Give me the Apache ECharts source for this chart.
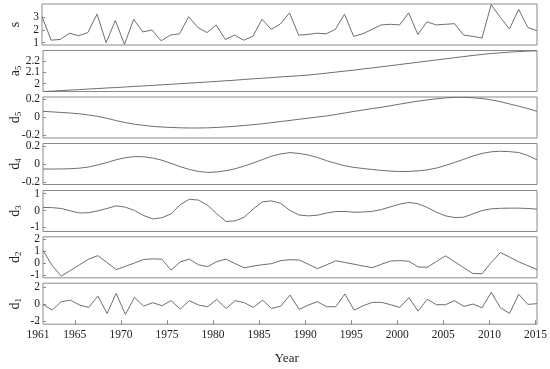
<!DOCTYPE html>
<html>
<head>
<meta charset="utf-8">
<script src="https://cdn.jsdelivr.net/npm/echarts@6/dist/echarts.min.js"></script>
<style>html,body{margin:0;padding:0;background:#fff}#c{width:550px;height:369px}</style>
</head>
<body>
<div id="c"></div>
<script>
const years = [1961,1962,1963,1964,1965,1966,1967,1968,1969,1970,1971,1972,1973,1974,1975,1976,1977,1978,1979,1980,
1981,1982,1983,1984,1985,1986,1987,1988,1989,1990,1991,1992,1993,1994,1995,1996,1997,1998,1999,2000,
2001,2002,2003,2004,2005,2006,2007,2008,2009,2010,2011,2012,2013,2014,2015];
const xTicks = [1961,1965,1970,1975,1980,1985,1990,1995,2000,2005,2010,2015];

const s = [3.05,1.2,1.26,1.75,1.55,1.8,3.25,1.0,2.75,0.87,2.85,1.85,2.0,1.15,1.6,1.7,3.05,2.2,1.8,2.4,
1.25,1.6,1.2,1.5,2.85,2.05,2.47,3.35,1.6,1.65,1.75,1.7,2.05,3.25,1.5,1.7,2.05,2.4,2.45,2.4,
3.35,1.65,2.65,2.4,2.45,2.5,1.6,1.5,1.37,4.0,3.0,2.08,3.63,2.2,1.95];
const a5 = [1.930,1.934,1.939,1.944,1.948,1.953,1.957,1.962,1.966,1.971,1.976,1.980,1.985,1.990,1.995,2.000,2.005,2.010,2.015,2.020,
2.026,2.031,2.037,2.043,2.048,2.054,2.060,2.065,2.070,2.076,2.084,2.093,2.102,2.111,2.120,2.130,2.139,2.149,2.159,2.169,
2.179,2.189,2.199,2.209,2.219,2.229,2.239,2.249,2.258,2.266,2.272,2.278,2.283,2.287,2.290];
const d5 = [0.063,0.057,0.05,0.044,0.035,0.022,0.007,-0.015,-0.04,-0.062,-0.08,-0.093,-0.104,-0.111,-0.116,-0.12,-0.122,-0.122,-0.12,-0.116,
-0.11,-0.103,-0.094,-0.085,-0.075,-0.062,-0.05,-0.038,-0.025,-0.013,0.0,0.012,0.028,0.045,0.062,0.078,0.094,0.108,0.125,0.143,
0.16,0.176,0.19,0.202,0.212,0.217,0.219,0.214,0.205,0.19,0.17,0.145,0.12,0.093,0.063];
const d4 = [-0.058,-0.058,-0.057,-0.054,-0.048,-0.035,-0.012,0.015,0.045,0.068,0.08,0.078,0.064,0.04,0.005,-0.032,-0.062,-0.085,-0.095,-0.09,
-0.076,-0.055,-0.025,0.01,0.048,0.085,0.11,0.124,0.115,0.097,0.07,0.035,0.005,-0.022,-0.04,-0.052,-0.063,-0.073,-0.081,-0.085,
-0.084,-0.078,-0.067,-0.047,-0.018,0.015,0.05,0.087,0.115,0.133,0.139,0.135,0.125,0.092,0.044];
const d3 = [0.18,0.17,0.12,-0.02,-0.15,-0.13,-0.02,0.12,0.28,0.2,0.0,-0.3,-0.5,-0.43,-0.2,0.35,0.67,0.62,0.3,-0.2,
-0.65,-0.62,-0.4,0.1,0.52,0.57,0.42,0.0,-0.27,-0.32,-0.28,-0.15,-0.06,-0.06,-0.1,-0.09,-0.05,0.06,0.22,0.38,
0.48,0.4,0.18,-0.1,-0.32,-0.42,-0.4,-0.2,0.0,0.1,0.13,0.14,0.14,0.12,0.08];
const d2 = [1.05,-0.2,-1.1,-0.62,-0.15,0.33,0.62,0.04,-0.55,-0.28,0.0,0.3,0.35,0.32,-0.6,0.1,0.33,-0.15,-0.3,0.12,
0.33,-0.05,-0.4,-0.25,-0.14,-0.05,0.2,0.28,0.25,-0.1,-0.47,-0.15,0.19,0.05,-0.1,-0.25,-0.39,-0.1,0.17,0.2,
0.15,-0.33,-0.36,0.12,0.6,0.1,-0.4,-0.88,-0.9,0.05,0.88,0.5,0.1,-0.22,-0.55];
const d1 = [0.0,-0.67,0.32,0.5,-0.08,-0.36,1.0,-1.07,1.3,-1.19,0.83,-0.2,0.2,-0.16,0.44,-0.55,0.44,-0.08,-0.28,0.6,
-0.5,0.44,0.2,-0.36,0.5,-0.48,-0.2,1.1,-0.6,-0.08,0.32,-0.28,-0.28,1.23,-0.67,-0.16,0.24,0.24,-0.04,-0.36,
0.8,-0.8,0.6,-0.04,-0.04,0.44,-0.24,0.04,-0.4,1.43,-0.4,-1.07,1.19,0.0,0.08];

const panels = [
  {name:'{m|s}', data:s, min:0.82, max:4.05, ticks:[1,2,3]},
  {name:'{m|a}{sub|5}', data:a5, min:1.931, max:2.2925, ticks:[2,2.1,2.2]},
  {name:'{m|d}{sub|5}', data:d5, min:-0.233, max:0.222, ticks:[-0.2,0,0.2]},
  {name:'{m|d}{sub|4}', data:d4, min:-0.229, max:0.225, ticks:[-0.2,0,0.2]},
  {name:'{m|d}{sub|3}', data:d3, min:-1.25, max:1.19, ticks:[-1,0,1]},
  {name:'{m|d}{sub|2}', data:d2, min:-1.24, max:2.2, ticks:[-1,0,1,2]},
  {name:'{m|d}{sub|1}', data:d1, min:-2.34, max:2.5, ticks:[-2,0,2]}
];
const tops = [4, 50.5, 97, 143.5, 190.5, 236.8, 283.2];

const font = 'Liberation Serif';
const labelStyle = {fontFamily:font, fontSize:11.5, lineHeight:6, color:'#222',
  showMinLabel:true, showMaxLabel:true, hideOverlap:false, formatter:(v) => String(v)};
const grid = [], xAxis = [], yAxis = [], series = [];
panels.forEach((p, i) => {
  grid.push({left:38, right:13, top:tops[i], height:41, show:true, borderColor:'#8a8a8a', borderWidth:1, backgroundColor:'transparent'});
  xAxis.push({
    type:'value', gridIndex:i, min:1961, max:2015, position:'bottom',
    axisLine:{show:false, onZero:false}, splitLine:{show:false},
    axisTick:{show:false}, axisLabel:{show:false}
  });
  const mainIndex = yAxis.length;
  // one axis per tick label so that no label is dropped by overlap handling
  const order = p.ticks.slice().reverse();
  order.forEach((t, k) => {
    yAxis.push({
      type:'value', gridIndex:i, min:p.min, max:p.max, position:'left',
      axisLine:{show:false, onZero:false}, splitLine:{show:false},
      axisTick:{show:k === 0, inside:true, length:3, lineStyle:{color:'#8a8a8a'}, customValues:p.ticks},
      axisLabel:Object.assign({customValues:[t], margin:3}, labelStyle),
      name: k === 0 ? p.name : '', nameLocation:'middle', nameRotate:90, nameGap:20, nameMoveOverlap:false,
      nameTextStyle:{fontFamily:font, color:'#222',
        rich:{m:{fontFamily:font, fontSize:14, color:'#222'}, sub:{fontFamily:font, fontSize:9, color:'#222', padding:[7,0,0,0]}}}
    });
  });
  series.push({
    type:'line', xAxisIndex:i, yAxisIndex:mainIndex, showSymbol:false, symbol:'none',
    data: years.map((y, k) => [y, p.data[k]]),
    lineStyle:{color:'#6e6e6e', width:1}, animation:false, silent:true
  });
});

// separate overlay grid, same place as the bottom panel, carrying the year axis
const gi = grid.length;
grid.push({left:38, right:13, top:tops[tops.length - 1], height:41, show:false});
xAxis.push({
  type:'value', gridIndex:gi, min:1961, max:2015, position:'bottom',
  axisLine:{show:false, onZero:false}, splitLine:{show:false},
  axisTick:{show:true, inside:true, length:4, lineStyle:{color:'#8a8a8a'}, customValues:xTicks},
  axisLabel:Object.assign({customValues:xTicks, margin:7.5}, labelStyle),
  name:'Year', nameLocation:'middle', nameGap:28, nameMoveOverlap:false,
  nameTextStyle:{fontFamily:font, fontSize:13, color:'#222'}
});
yAxis.push({type:'value', gridIndex:gi, min:0, max:1, show:false});

const chart = echarts.init(document.getElementById('c'), null, {renderer:'canvas'});
chart.setOption({animation:false, grid, xAxis, yAxis, series});
</script>
</body>
</html>
